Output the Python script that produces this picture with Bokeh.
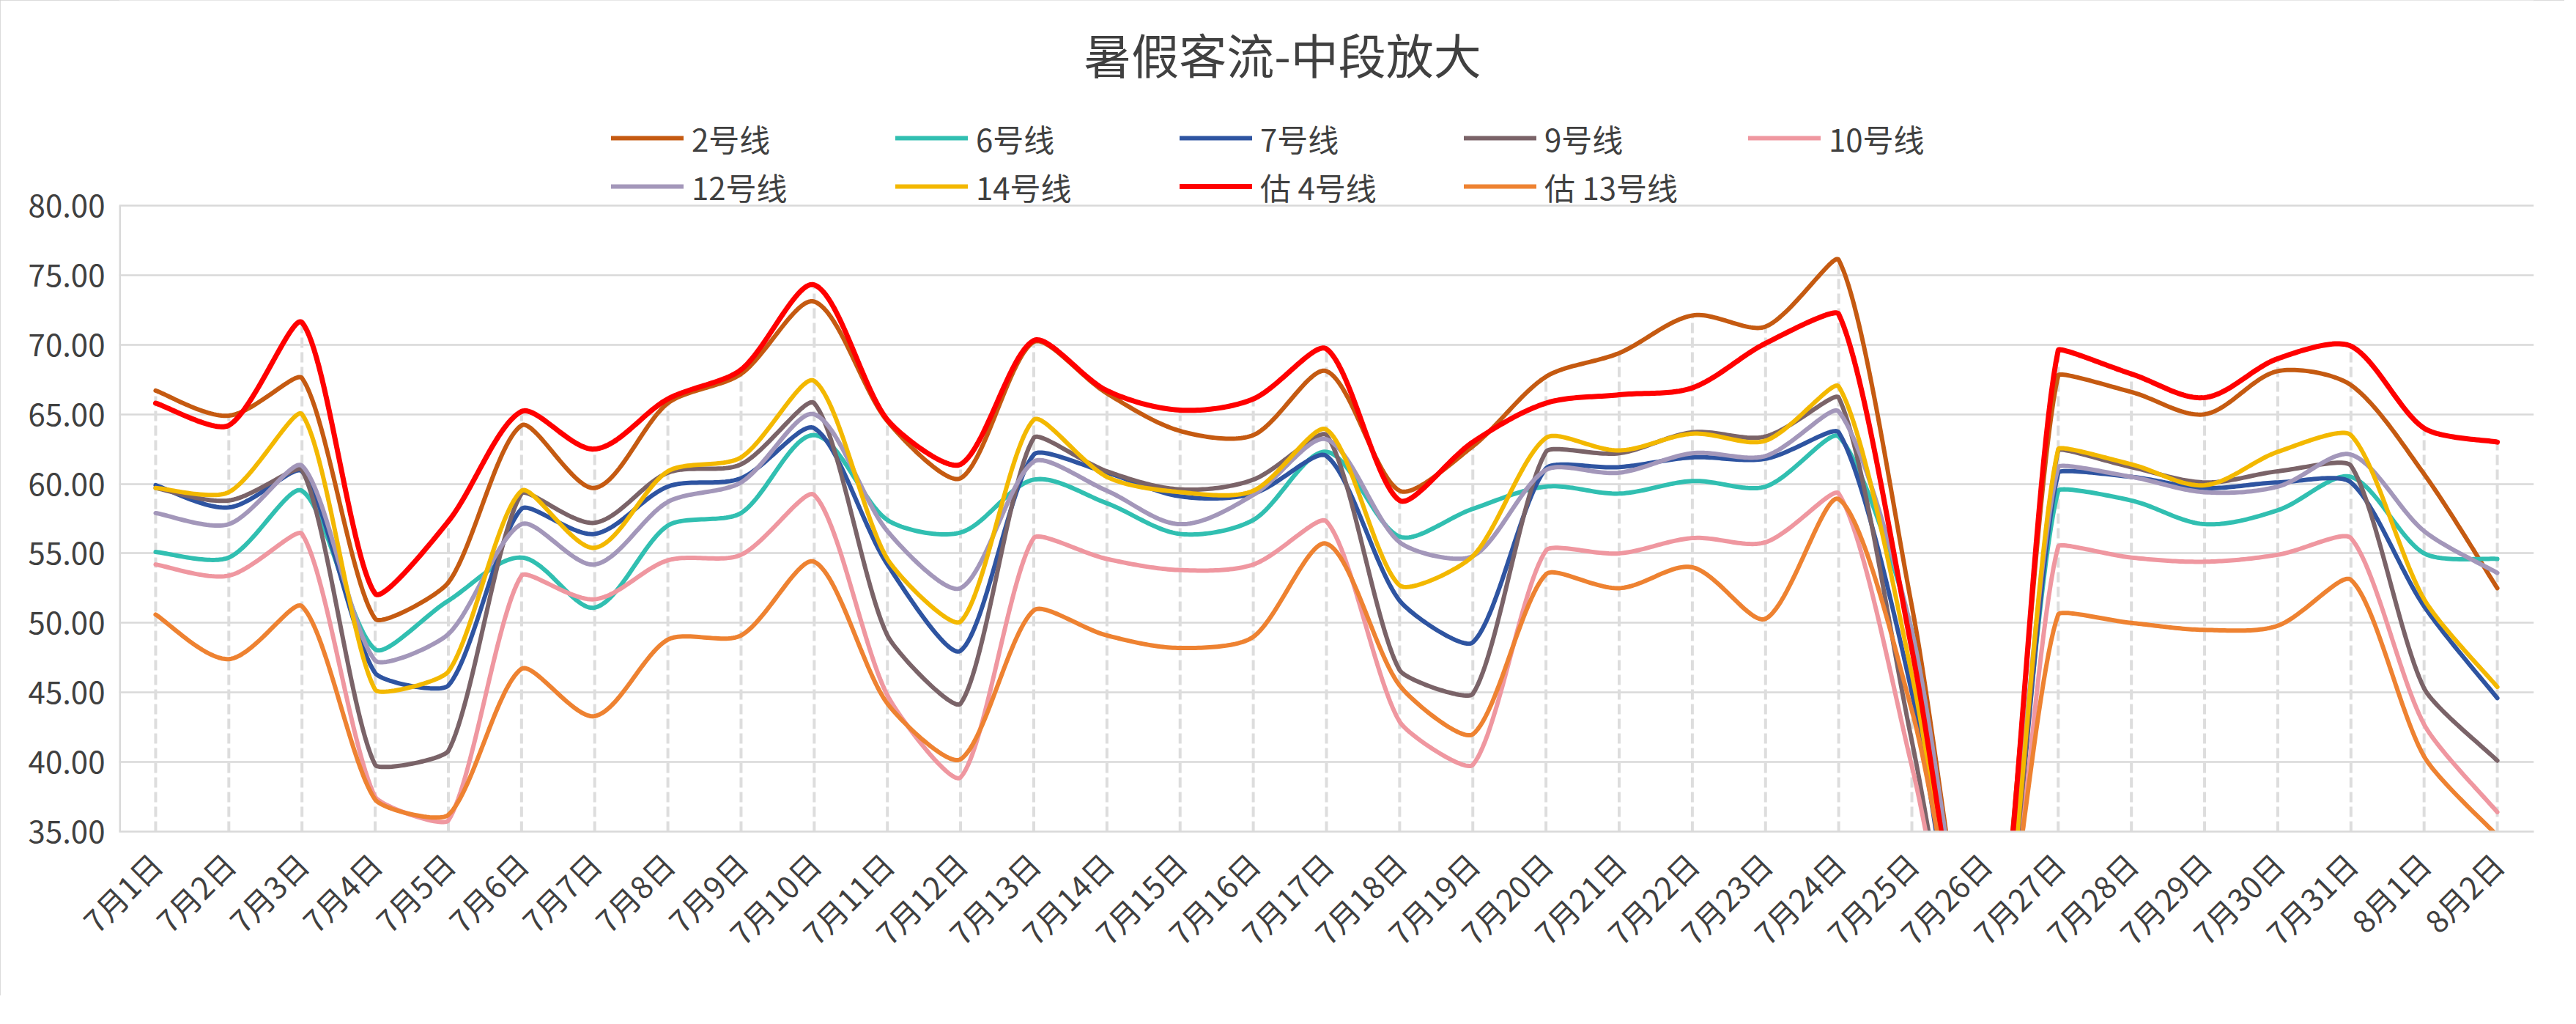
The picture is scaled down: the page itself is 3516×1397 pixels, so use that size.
import math
from bokeh.plotting import figure
from bokeh.models import (Range1d, FixedTicker, PrintfTickFormatter, Legend,
                          LegendItem, Label, ColumnDataSource)
from bokeh.embed import file_html
from bokeh.resources import INLINE

# ---------------- data ----------------
dates = ["7月1日", "7月2日", "7月3日", "7月4日", "7月5日", "7月6日", "7月7日",
         "7月8日", "7月9日", "7月10日", "7月11日", "7月12日", "7月13日", "7月14日",
         "7月15日", "7月16日", "7月17日", "7月18日", "7月19日", "7月20日", "7月21日",
         "7月22日", "7月23日", "7月24日", "7月25日", "7月26日", "7月27日", "7月28日",
         "7月29日", "7月30日", "7月31日", "8月1日", "8月2日"]

line2 = [66.7, 64.9, 67.6, 50.3, 52.9, 64.2, 59.7, 65.8, 67.9, 73.1, 64.5, 60.4, 70.2,
         66.5, 63.8, 63.5, 68.1, 59.5, 62.7, 67.7, 69.4, 72.1, 71.3, 76.1, 51.2, 21.0,
         67.8, 66.6, 65.0, 68.1, 67.1, 60.7, 52.5]
line6 = [55.1, 54.7, 59.5, 48.1, 51.6, 54.7, 51.1, 57.0, 57.9, 63.5, 57.4, 56.5, 60.3,
         58.6, 56.4, 57.4, 62.3, 56.2, 58.2, 59.8, 59.3, 60.2, 59.8, 63.4, 49.4, 20.0,
         59.5, 58.8, 57.1, 58.1, 60.5, 55.0, 54.6]
line7 = [59.9, 58.3, 60.9, 46.4, 45.5, 58.2, 56.4, 59.8, 60.4, 64.0, 54.2, 48.0, 62.1,
         60.8, 59.1, 59.3, 62.0, 51.6, 48.6, 61.1, 61.2, 61.9, 61.8, 63.7, 45.0, 17.0,
         60.8, 60.5, 59.7, 60.1, 60.1, 51.2, 44.6]
line9 = [59.7, 58.8, 61.0, 39.8, 40.8, 59.3, 57.2, 60.8, 61.4, 65.8, 49.1, 44.2, 63.3,
         60.9, 59.6, 60.3, 63.5, 46.6, 44.9, 62.3, 62.2, 63.7, 63.4, 66.2, 41.5, 15.5,
         62.4, 61.2, 60.1, 60.9, 61.3, 45.3, 40.1]
line10 = [54.2, 53.4, 56.4, 37.5, 35.8, 53.4, 51.7, 54.5, 54.9, 59.2, 44.8, 38.9, 56.1,
          54.6, 53.8, 54.2, 57.3, 42.9, 39.8, 55.2, 55.0, 56.1, 55.8, 59.3, 39.7, 16.0,
          55.5, 54.7, 54.4, 54.9, 56.1, 42.7, 36.4]
line12 = [57.9, 57.1, 61.3, 47.3, 49.2, 57.1, 54.2, 58.7, 60.1, 65.0, 56.6, 52.5, 61.6,
          59.5, 57.1, 59.2, 63.2, 55.8, 54.8, 61.0, 60.8, 62.2, 62.0, 65.2, 49.4, 21.0,
          61.2, 60.5, 59.4, 59.8, 62.1, 56.6, 53.6]
line14 = [59.7, 59.4, 65.0, 45.2, 46.5, 59.5, 55.4, 60.9, 61.9, 67.4, 54.6, 50.1, 64.6,
          60.5, 59.4, 59.5, 63.9, 52.7, 54.8, 63.3, 62.4, 63.6, 63.1, 67.0, 46.3, 17.5,
          62.5, 61.4, 59.9, 62.3, 63.5, 51.7, 45.4]
line4_est = [65.8, 64.2, 71.6, 52.1, 57.3, 65.2, 62.5, 66.1, 68.2, 74.3, 64.6, 61.4, 70.3,
             66.7, 65.3, 66.1, 69.7, 58.8, 63.0, 65.8, 66.4, 66.9, 70.1, 72.2, 48.1, 19.0,
             69.6, 67.9, 66.2, 69.0, 69.9, 64.0, 63.0]
line13_est = [50.6, 47.4, 51.2, 37.3, 36.2, 46.7, 43.3, 48.8, 49.1, 54.4, 44.2, 40.2, 50.9,
              49.1, 48.2, 49.0, 55.7, 45.5, 42.0, 53.5, 52.5, 54.0, 50.3, 58.9, 43.7, 21.0,
              50.6, 50.0, 49.5, 49.8, 53.1, 40.4, 34.7]

series_names = ["2号线", "6号线", "7号线", "9号线", "10号线",
                "12号线", "14号线", "估 4号线", "估 13号线"]
series_values = [line2, line6, line7, line9, line10, line12, line14, line4_est, line13_est]
series_colors = ["#C55A11", "#31BFB1", "#2E54A1", "#7A6368", "#EF97A0",
                 "#A397BA", "#F3B800", "#FF0000", "#EE8231"]
series_widths = [6, 6, 6, 6, 6, 6, 6, 7, 6]

y_ticks = [35, 40, 45, 50, 55, 60, 65, 70, 75, 80]
Y_MIN, Y_MAX = 35, 80

FONT = "Noto Sans CJK SC"
TXT = "#404040"

# ---------------- layout (canvas px) ----------------
W, H = 3500, 1358
FRAME_L, FRAME_R, FRAME_T_AXIS, FRAME_B = 162, 3458, 280, 1134
PLOT_H = FRAME_B - FRAME_T_AXIS                  # height of the 35..80 band
SY = PLOT_H / (Y_MAX - Y_MIN)                    # px per value unit
SX = (FRAME_R - FRAME_L) / len(dates)            # px per category
Y_TOP = Y_MAX + FRAME_T_AXIS / SY                # frame extends to the canvas top


def smooth(vals, n=30):
    """Smoothed line through the points (Bezier; control arms shortened next to long jumps)."""
    pts = [(i * SX, v * SY) for i, v in enumerate(vals)]
    P = [pts[0]] + pts + [pts[-1]]
    xs, ys = [], []

    def dist(a, b):
        return math.hypot(a[0] - b[0], a[1] - b[1])

    for i in range(1, len(P) - 2):
        p0, p1, p2, p3 = P[i - 1], P[i], P[i + 1], P[i + 2]
        d01, d12, d23 = dist(p0, p1), dist(p1, p2), dist(p2, p3)
        if d01 == 0:
            d01 = d12
        if d23 == 0:
            d23 = d12
        f = (1 / 6) * min(1.0, 2 * d12 / (d01 + d12)) ** 2
        g = (1 / 6) * min(1.0, 2 * d12 / (d12 + d23)) ** 2
        c1 = (p1[0] + f * (p2[0] - p0[0]), p1[1] + f * (p2[1] - p0[1]))
        c2 = (p2[0] - g * (p3[0] - p1[0]), p2[1] - g * (p3[1] - p1[1]))
        for k in range(n):
            t = k / n
            a = (1 - t) ** 3
            b = 3 * (1 - t) ** 2 * t
            c = 3 * (1 - t) * t ** 2
            d = t ** 3
            xs.append((a * p1[0] + b * c1[0] + c * c2[0] + d * p2[0]) / SX)
            ys.append((a * p1[1] + b * c1[1] + c * c2[1] + d * p2[1]) / SY)
    xs.append(pts[-1][0] / SX)
    ys.append(pts[-1][1] / SY)
    return xs, ys


p = figure(width=W, height=H, output_backend="svg", toolbar_location=None,
           x_range=Range1d(-0.5, len(dates) - 0.5), y_range=Range1d(Y_MIN, Y_TOP),
           min_border_left=FRAME_L, min_border_right=W - FRAME_R, min_border_top=0,
           min_border_bottom=H - FRAME_B)
p.styles = {"outline": "2px solid #CFCFCF", "outline-offset": "-2px"}
p.outline_line_color = None
p.background_fill_color = "white"
p.border_fill_color = "white"

# grid
p.xgrid.visible = False
p.ygrid.ticker = FixedTicker(ticks=y_ticks)
p.ygrid.grid_line_color = "#D9D9D9"
p.ygrid.grid_line_width = 2.5

# axes
p.yaxis.ticker = FixedTicker(ticks=y_ticks)
p.yaxis.formatter = PrintfTickFormatter(format="%.2f")
p.yaxis.major_label_text_font = FONT
p.yaxis.major_label_text_font_size = "42px"
p.yaxis.major_label_text_color = TXT
p.yaxis.major_label_standoff = 13
p.yaxis.axis_line_color = None
p.yaxis.major_tick_line_color = None
p.yaxis.minor_tick_line_color = None

p.xaxis.ticker = FixedTicker(ticks=list(range(len(dates))))
p.xaxis.major_label_overrides = {i: d for i, d in enumerate(dates)}
p.xaxis.major_label_orientation = math.pi / 4
p.xaxis.major_label_text_font = FONT
p.xaxis.major_label_text_font_size = "42px"
p.xaxis.major_label_text_color = TXT
p.xaxis.major_label_standoff = 30
p.xaxis.axis_line_color = "#D9D9D9"
p.xaxis.axis_line_width = 2.5
p.xaxis.major_tick_line_color = None
p.xaxis.minor_tick_line_color = None

# value-axis line (only over the 35..80 band)
p.segment(x0=[-0.5], y0=[Y_MIN], x1=[-0.5], y1=[Y_MAX], line_color="#D9D9D9", line_width=5)

# drop lines (from highest series value at each day down to the axis)
idx = list(range(len(dates)))
tops = [min(max(vals[i] for vals in series_values), Y_MAX) for i in idx]
p.segment(x0=idx, y0=[Y_MIN] * len(idx), x1=idx, y1=tops,
          line_color="#DDDDDD", line_width=4, line_dash="14 6")

items = []
for name, vals, col, lw in zip(series_names, series_values, series_colors, series_widths):
    xs, ys = smooth(vals)
    src = ColumnDataSource(dict(x=xs, y=ys))
    r = p.line("x", "y", source=src, line_color=col, line_width=lw,
               line_join="round", line_cap="round")
    items.append(LegendItem(label=name, renderers=[r]))

legend = Legend(items=items, location=(672, PLOT_H - 7), orientation="horizontal", ncols=5,
                glyph_width=99, glyph_height=66, label_standoff=11, label_width=278,
                label_height=66, spacing=0, padding=0, margin=0,
                label_text_font=FONT, label_text_font_size="42px",
                label_text_color=TXT, label_text_baseline="middle",
                border_line_color=None, background_fill_alpha=0)
p.add_layout(legend, "center")

title = Label(x=(W / 2) - FRAME_L, y=FRAME_B - 72, x_units="screen", y_units="screen",
              text="暑假客流-中段放大", text_font=FONT, text_font_size="65px",
              text_color=TXT, text_align="center", text_baseline="middle")
p.add_layout(title)

open("out.html", "w").write(file_html(p, INLINE))
